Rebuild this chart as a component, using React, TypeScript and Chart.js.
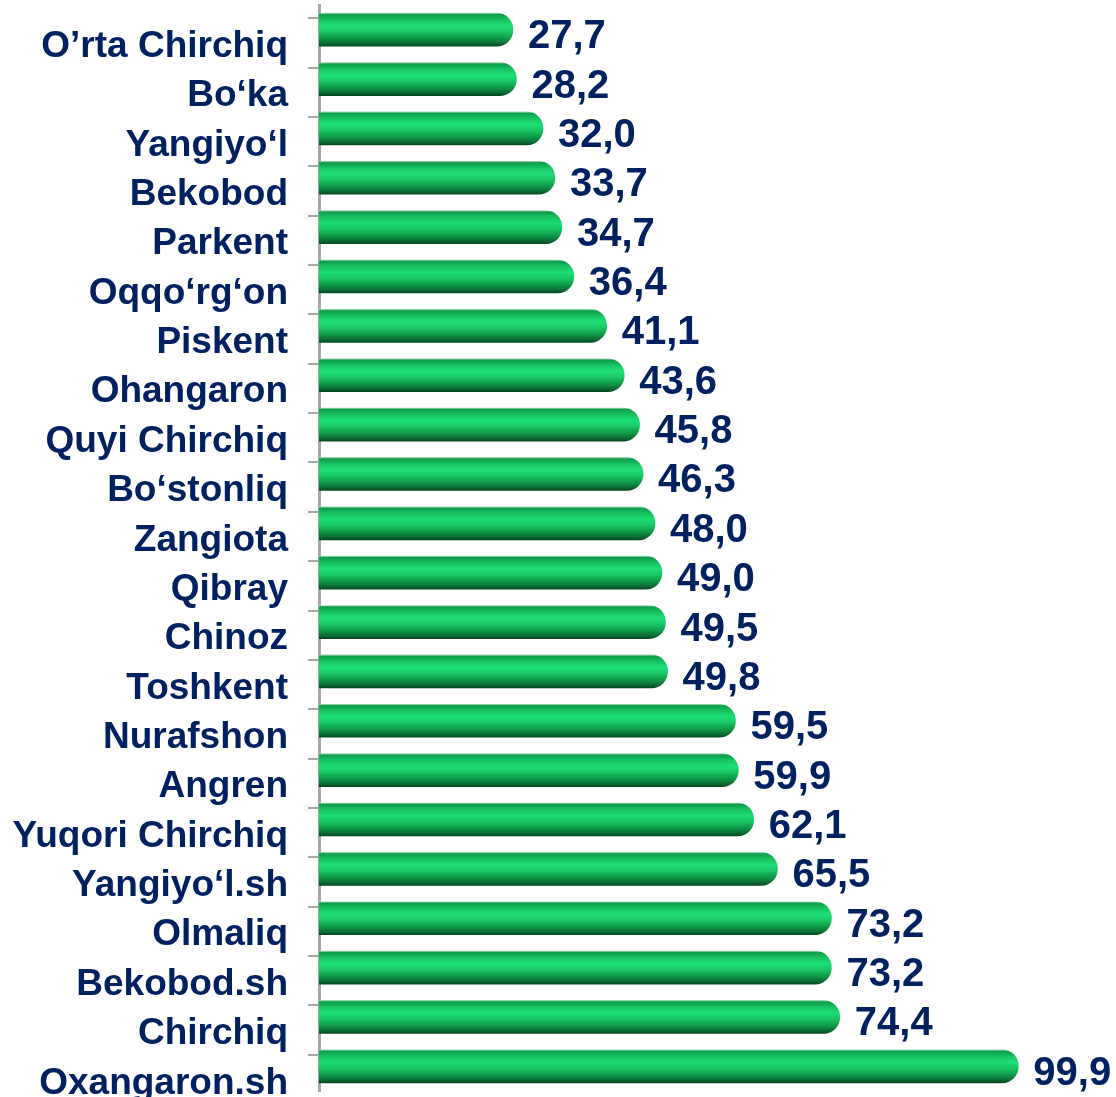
import React, { useEffect, useRef } from "react";
import { Chart, registerables } from "chart.js";

Chart.register(...registerables);

const categories: string[] = [
  "O’rta Chirchiq",
  "Bo‘ka",
  "Yangiyo‘l",
  "Bekobod",
  "Parkent",
  "Oqqo‘rg‘on",
  "Piskent",
  "Ohangaron",
  "Quyi Chirchiq",
  "Bo‘stonliq",
  "Zangiota",
  "Qibray",
  "Chinoz",
  "Toshkent",
  "Nurafshon",
  "Angren",
  "Yuqori Chirchiq",
  "Yangiyo‘l.sh",
  "Olmaliq",
  "Bekobod.sh",
  "Chirchiq",
  "Oxangaron.sh",
];

const values: number[] = [
  27.7, 28.2, 32.0, 33.7, 34.7, 36.4, 41.1, 43.6, 45.8, 46.3, 48.0, 49.0, 49.5,
  49.8, 59.5, 59.9, 62.1, 65.5, 73.2, 73.2, 74.4, 99.9,
];

const TEXT_COLOR = "#002060";
const AXIS_COLOR = "#A6A6A6";
const FONT = "'Liberation Sans', Arial, sans-serif";
const BAR_H = 33;

const fmt = (v: number) => v.toFixed(1).replace(".", ",");

const tickMarks = {
  id: "tickMarks",
  afterDraw(chart: any) {
    const y = chart.scales.y;
    const ctx = chart.ctx;
    ctx.save();
    ctx.strokeStyle = AXIS_COLOR;
    ctx.lineWidth = 2;
    for (let i = 0; i < categories.length; i++) {
      const py = Math.round(y.getPixelForValue(i) - 11.5);
      ctx.beginPath();
      ctx.moveTo(chart.chartArea.left - 11, py);
      ctx.lineTo(chart.chartArea.left - 1, py);
      ctx.stroke();
    }
    ctx.restore();
  },
};

const valueLabels = {
  id: "valueLabels",
  afterDatasetsDraw(chart: any) {
    const ctx = chart.ctx;
    const meta = chart.getDatasetMeta(0);
    ctx.save();
    ctx.fillStyle = TEXT_COLOR;
    ctx.font = `bold 40px ${FONT}`;
    ctx.textAlign = "left";
    ctx.textBaseline = "middle";
    meta.data.forEach((el: any, i: number) => {
      ctx.fillText(fmt(values[i]), el.x + 15, el.y + 7.5);
    });
    ctx.restore();
  },
};

export default function App() {
  const ref = useRef<HTMLCanvasElement | null>(null);

  useEffect(() => {
    if (!ref.current) return;
    const chart = new Chart(ref.current, {
      type: "bar",
      data: {
        labels: categories,
        datasets: [
          {
            data: values,
            barThickness: BAR_H,
            borderSkipped: "start",
            borderRadius: {
              topLeft: 0,
              bottomLeft: 0,
              topRight: 16.5,
              bottomRight: 16.5,
            },
            backgroundColor: (c: any) => {
              const chartObj = c.chart;
              const ys = chartObj.scales && chartObj.scales.y;
              if (!ys || c.dataIndex === undefined) return "#17C062";
              const yc = ys.getPixelForValue(c.dataIndex);
              if (!Number.isFinite(yc)) return "#17C062";
              const g = chartObj.ctx.createLinearGradient(
                0,
                yc - BAR_H / 2,
                0,
                yc + BAR_H / 2
              );
              g.addColorStop(0, "#9ED9B0");
              g.addColorStop(0.04, "#0F9C4A");
              g.addColorStop(0.2, "#17C260");
              g.addColorStop(0.38, "#1EDE76");
              g.addColorStop(0.55, "#19C866");
              g.addColorStop(0.75, "#0F9C48");
              g.addColorStop(0.9, "#0A7034");
              g.addColorStop(1, "#044A1F");
              return g;
            },
          },
        ],
      },
      options: {
        indexAxis: "y",
        responsive: false,
        animation: false,
        layout: { padding: { top: 5, bottom: 6, left: 0, right: 27 } },
        plugins: {
          legend: { display: false },
          tooltip: { enabled: false },
          title: { display: false },
        },
        scales: {
          x: {
            display: false,
            min: 0,
            max: 110,
          },
          y: {
            afterFit: (s: any) => {
              s.width = 319;
              s.paddingTop = 0;
              s.paddingBottom = 0;
            },
            grid: { display: false, drawTicks: false },
            border: { display: true, color: AXIS_COLOR, width: 3 },
            ticks: {
              autoSkip: false,
              padding: 31,
              labelOffset: 17,
              color: TEXT_COLOR,
              font: { family: FONT, size: 37, weight: "bold" },
            },
          },
        },
      },
      plugins: [tickMarks, valueLabels],
    } as any);
    return () => chart.destroy();
  }, []);

  return (
    <div
      style={{
        position: "fixed",
        left: 0,
        top: 0,
        width: 1116,
        height: 1097,
        background: "#fff",
      }}
    >
      <canvas ref={ref} width={1116} height={1097} />
    </div>
  );
}
